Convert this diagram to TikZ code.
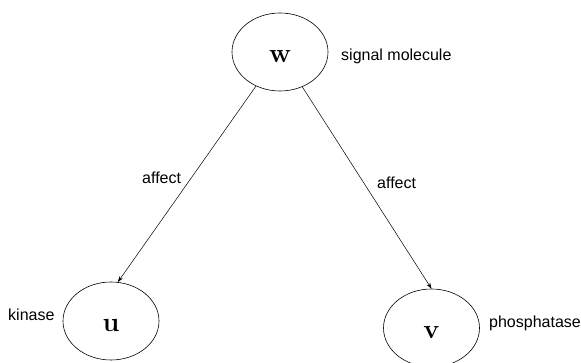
\documentclass[tikz,border=0pt]{standalone}
\usepackage{fontspec}
\setsansfont{Liberation Sans}
\usepackage{tikz}
\usetikzlibrary{arrows.meta}
\usetikzlibrary{shapes}
\usetikzlibrary{positioning}

\begin{document}
\begin{tikzpicture}[x=1pt,y=1pt,
		molecule/.style={draw,ellipse,line width=0.6pt,minimum width=96pt,minimum height=78pt,inner sep=0pt,
			font=\fontsize{27}{32}\selectfont\bfseries,text height=21pt,text depth=0pt},
		tag/.style={inner sep=0pt,font=\sffamily\fontsize{16}{19}\selectfont},
		affects/.style={-{Stealth[length=6pt,width=4pt]},line width=0.5pt}]
		\useasboundingbox (0,0) rectangle (581,363);
		
		\node[molecule] (w) at (280,311) {w};
		\node[molecule] (u) at (111,42) {u};
		\node[molecule] (v) at (431.5,35) {v};
		
		\node[tag,anchor=base west] (w-tag) at (341,302) {signal molecule};
		\node[tag,anchor=base west] (u-tag) at (8,42) {kinase};
		\node[tag,anchor=base west] (v-tag) at (489,35) {phosphatase};
		
		\draw[affects] (w) -- (u.80);
		\node[tag,anchor=base west] (wu-tag) at (142,179) {affect};
		\draw[affects] (w) -- (v.north);
		\node[tag,anchor=base west] (wv-tag) at (377,174) {affect};
		\end{tikzpicture}
\end{document}
